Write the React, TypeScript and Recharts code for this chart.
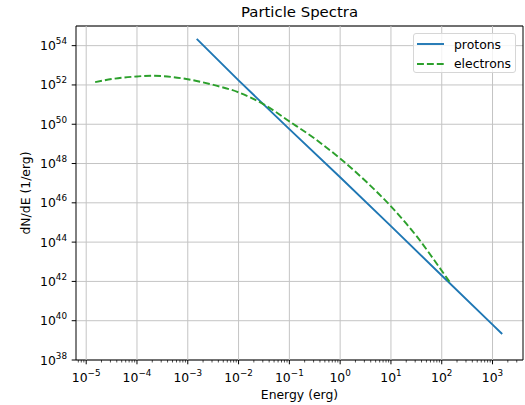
import { LineChart, Line, XAxis, YAxis, CartesianGrid, ReferenceLine, ReferenceArea, Legend } from 'recharts';

// axis ticks
const energyTicks = [1e-5, 1e-4, 1e-3, 1e-2, 1e-1, 1, 1e1, 1e2, 1e3];
const energyExponents = ['−5', '−4', '−3', '−2', '−1', '0', '1', '2', '3'];
const fluxTicks = [1e38, 1e40, 1e42, 1e44, 1e46, 1e48, 1e50, 1e52, 1e54];
const fluxExponents = ['38', '40', '42', '44', '46', '48', '50', '52', '54'];
const energyDomain = [6.3e-6, 3.98e3];
const fluxDomain = [1e38, 1e55];

// protons: straight power law
const protonEnergy = [1.5e-3, 1e-2, 1e-1, 1, 1e1, 1e2, 1e3, 1.55e3];
const protonFlux = [2.2e54, 1.7e52, 5.6e49, 2e47, 6.5e44, 2e42, 6.3e39, 2.1e39];

// electrons: bends over at low and high energy
const electronEnergy = [1.5e-5, 3.2e-5, 1e-4, 2e-4, 3.2e-4, 1e-3, 3.2e-3, 1e-2, 3.2e-2, 1e-1, 3.2e-1, 1, 3.2, 1e1, 3.2e1, 1e2, 1.5e2];
const electronFlux = [1.4e52, 2e52, 2.7e52, 2.95e52, 2.8e52, 1.95e52, 1e52, 4.2e51, 1e51, 1.4e50, 1.8e49, 1.8e48, 1.25e47, 6.6e45, 2e44, 3.5e42, 8e41];

const protons = protonEnergy.map((E, i) => ({ E, N: protonFlux[i] }));
const electrons = electronEnergy.map((E, i) => ({ E, N: electronFlux[i] }));

const minorTicks: number[] = [];
for (let d = -6; d <= 3; d++) {
  for (let m = 2; m <= 9; m++) {
    const v = m * Math.pow(10, d);
    if (v > energyDomain[0] && v < energyDomain[1]) minorTicks.push(v);
  }
}

const FONT = '"DejaVu Sans", sans-serif';
const BLUE = '#1f77b4';
const GREEN = '#2ca02c';
const GRID = '#c4c4c4';

function XTick(props: any) {
  const { x, y, payload } = props;
  const i = energyTicks.indexOf(payload.value);
  const major = i >= 0;
  return (
    <g>
      <line x1={x} x2={x} y1={y} y2={y + (major ? 4.3 : 2.5)} stroke="#000" strokeWidth={major ? 1 : 0.7} />
      {major && (
        <text x={x} y={y + 22} textAnchor="middle" fontSize={12.4} fill="#000" fontFamily={FONT}>
          10<tspan dy={-6} fontSize={8.8}>{energyExponents[i]}</tspan>
        </text>
      )}
    </g>
  );
}

function YTick(props: any) {
  const { x, y, payload } = props;
  const i = fluxTicks.indexOf(payload.value);
  return (
    <g>
      <line x1={x - 4.3} x2={x} y1={y} y2={y} stroke="#000" strokeWidth={1} />
      <text x={x - 9} y={y + 4.5} textAnchor="end" fontSize={12.4} fill="#000" fontFamily={FONT}>
        10<tspan dy={-6} fontSize={8.8}>{fluxExponents[i]}</tspan>
      </text>
    </g>
  );
}

function LegendBox() {
  const rows = [
    { name: 'protons', color: BLUE, dash: undefined },
    { name: 'electrons', color: GREEN, dash: '6.9 3' },
  ];
  return (
    <div style={{ width: 101, height: 38, border: '1px solid #d6d6d6', borderRadius: 3, background: 'rgba(255,255,255,0.8)', fontFamily: FONT, fontSize: 12.4, position: 'relative' }}>
      {rows.map((r, i) => (
        <div key={r.name} style={{ position: 'absolute', left: 3, top: 1 + i * 19.6, height: 18, display: 'flex', alignItems: 'center' }}>
          <svg width={27} height={6}>
            <line x1={0} x2={27} y1={3} y2={3} stroke={r.color} strokeWidth={1.9} strokeDasharray={r.dash} />
          </svg>
          <span style={{ marginLeft: 10, color: '#000' }}>{r.name}</span>
        </div>
      ))}
    </div>
  );
}

function YLabel(props: any) {
  const { viewBox } = props;
  const cx = viewBox.x + 30;
  const cy = 193;
  return (
    <text x={cx} y={cy} transform={`rotate(-90, ${cx}, ${cy})`} textAnchor="middle" fontSize={12.4} fill="#000" fontFamily={FONT}>
      dN/dE (1/erg)
    </text>
  );
}

function XLabel(props: any) {
  const { viewBox } = props;
  return (
    <text x={viewBox.x + viewBox.width / 2} y={viewBox.y + 39} textAnchor="middle" fontSize={12.4} fill="#000" fontFamily={FONT}>
      Energy (erg)
    </text>
  );
}

export default function App() {
  return (
    <div style={{ position: 'absolute', left: 0, top: 0, width: 525, height: 405, background: '#fff' }}>
      <div style={{ position: 'absolute', left: 76, width: 447, top: 3, textAlign: 'center', fontFamily: FONT, fontSize: 14.9, color: '#000' }}>
        Particle Spectra
      </div>
      <LineChart width={525} height={405} margin={{ top: 26, right: 2, bottom: 0, left: 0 }}>
        <CartesianGrid vertical={false} stroke={GRID} strokeWidth={1} />
        <XAxis
          dataKey="E"
          type="number"
          scale="log"
          domain={energyDomain}
          allowDataOverflow
          ticks={[...energyTicks, ...minorTicks]}
          interval={0}
          tickSize={0}
          tickMargin={0}
          axisLine={false}
          tickLine={false}
          tick={<XTick />}
          height={45}
          label={<XLabel />}
        />
        <YAxis
          dataKey="N"
          type="number"
          scale="log"
          domain={fluxDomain}
          allowDataOverflow
          ticks={fluxTicks}
          interval={0}
          tickSize={0}
          tickMargin={0}
          axisLine={false}
          tickLine={false}
          tick={<YTick />}
          width={76}
          label={<YLabel />}
        />
        {energyTicks.map(t => (
          <ReferenceLine key={t} x={t} stroke={GRID} strokeWidth={1} />
        ))}
        <ReferenceArea x1={energyDomain[0]} x2={energyDomain[1]} y1={fluxDomain[0]} y2={fluxDomain[1]} fill="none" stroke="#000" strokeWidth={1} ifOverflow="visible" />
        <Line data={protons} dataKey="N" name="protons" stroke={BLUE} strokeWidth={1.9} dot={false} isAnimationActive={false} />
        <Line data={electrons} type="monotone" dataKey="N" name="electrons" stroke={GREEN} strokeWidth={1.9} strokeDasharray="6.9 3" dot={false} isAnimationActive={false} />
        <Legend layout="vertical" align="center" verticalAlign="middle" content={<LegendBox />} wrapperStyle={{ left: 413, top: 33, width: 103 }} />
      </LineChart>
    </div>
  );
}
